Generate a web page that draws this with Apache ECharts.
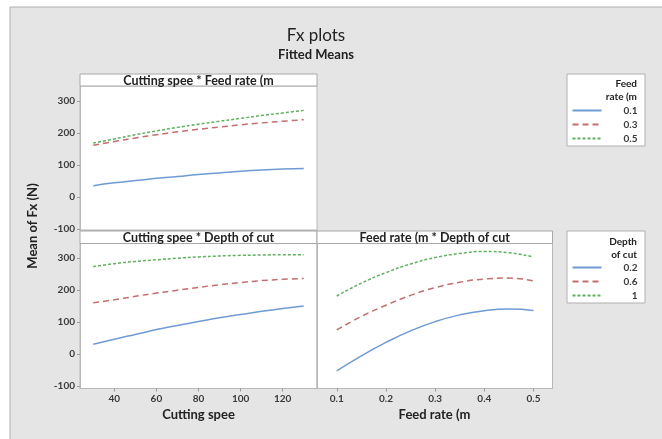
<!DOCTYPE html>
<html><head><meta charset="utf-8">
<script src="https://cdn.jsdelivr.net/npm/echarts@6/dist/echarts.min.js"></script>
<style>html,body{margin:0;padding:0;background:#fff}#c{width:662px;height:439px}</style>
</head><body><div id="c"></div>
<script>
// ---- data ----
const cuttingSpeed = [30,40,50,60,70,80,90,100,110,120,130];
const feedRate = [0.1,0.15,0.2,0.25,0.3,0.35,0.4,0.45,0.5];
// Cutting speed * Feed rate (by feed rate)
const csFr_01 = [35,44,51,58,64,70,75,80,84,87,89];
const csFr_03 = [161,173,184,194,203,211,218,225,231,236,241];
const csFr_05 = [168,181,194,206,217,227,236,245,254,262,270];
// Cutting speed * Depth of cut (by depth)
const csDc_02 = [31,47,62,77,90,102,114,124,134,143,151];
const csDc_06 = [161,170,181,191,200,209,217,224,230,234,237];
const csDc_1  = [274,283,290,295,300,304,307,309,310,311,311];
// Feed rate * Depth of cut (by depth)
const frDc_02 = [-52,-5,37,73,102,123,136,141,137];
const frDc_06 = [76,118,153,184,208,225,235,238,229];
const frDc_1  = [182,222,255,282,302,315,321,317,304];
// tick labels
const yTicks = [-100,0,100,200,300];
const speedTicks = [40,60,80,100,120];
const feedTicks = [0.1,0.2,0.3,0.4,0.5];
const feedLegend = ['0.1','0.3','0.5'];
const depthLegend = ['0.2','0.6','1'];

const FONT = 'Lato';
const colors = ['#6f9bd4','#c46e6e','#5fb05f'];
const styles = [
  {type:'solid', width:1.5},
  {type:[6,4], width:1.5},
  {type:[3,2], width:1.5}
];
const pairs = (xs, ys) => xs.map((x,i)=>[x, ys[i]]);

function mkSeries(name, xs, ys, k, xi, yi){
  return {name, type:'line', xAxisIndex:xi, yAxisIndex:yi, data:pairs(xs,ys),
    smooth:true, symbol:'none', color:colors[k],
    lineStyle:Object.assign({color:colors[k]}, styles[k]), z:3};
}
const lblStyle = {color:'#3a3a3a', fontFamily:FONT, fontWeight:'bold', fontSize:10};
const tickStyle = {lineStyle:{color:'#9a9a9a'}, length:3};
function yAxis(gi, showLabels, min, max){
  return {type:'value', gridIndex:gi, min, max, splitLine:{show:false},
    axisLine:{show:true, lineStyle:{color:'#b8b8b8'}},
    axisTick:Object.assign({show:showLabels, customValues:yTicks}, tickStyle),
    axisLabel:Object.assign({show:showLabels, customValues:yTicks, margin:5}, lblStyle)};
}
function xAxis(gi, showLabels, min, max, ticks, fmt){
  return {type:'value', gridIndex:gi, min, max, splitLine:{show:false},
    axisLine:{show:true, onZero:false, lineStyle:{color:'#b8b8b8'}},
    axisTick:Object.assign({show:showLabels, customValues:ticks}, tickStyle),
    axisLabel:Object.assign({show:showLabels, customValues:ticks, margin:5, formatter:fmt}, lblStyle)};
}
const gridCommon = {show:true, backgroundColor:'#ffffff', borderColor:'#b8b8b8', borderWidth:1, containLabel:false};

const legendRich = {a:{width:31, align:'right', fontFamily:FONT, fontWeight:'bold', fontSize:10, color:'#3a3a3a'}};
function legend(data, top){
  return {data, orient:'vertical', left:571.5, top, padding:0, itemWidth:29, itemHeight:10, itemGap:4,
    itemStyle:{opacity:0}, 
    formatter:'{a|{name}}', textStyle:{rich:legendRich}, selectedMode:false};
}
function txt(x,y,text,size,weight,align,extra){
  return Object.assign({type:'text', x, y, silent:true, style:{text, fill:'#222', font:weight+' '+size+'px '+FONT, align:align||'center', verticalAlign:'middle'}, z:10}, extra||{});
}
function strip(x,y,w,h,text){
  return [
    {type:'rect', shape:{x,y,width:w,height:h}, style:{fill:'#fff', stroke:'#a8a8a8', lineWidth:1}, z:5, silent:true},
    txt(x+w/2, y+h/2+0.5, text, 12.5, 'bold')
  ];
}

const option = {
  animation:false,
  backgroundColor:'#ffffff',
  grid:[
    Object.assign({left:80, top:86, width:237, height:144}, gridCommon),
    Object.assign({left:80, top:243.5, width:237, height:145}, gridCommon),
    Object.assign({left:317, top:243.5, width:235.5, height:145}, gridCommon)
  ],
  xAxis:[
    xAxis(0,false,23.7,136.3,speedTicks),
    xAxis(1,true,23.7,136.3,speedTicks),
    xAxis(2,true,0.0598,0.5386,feedTicks,v=>String(v))
  ],
  yAxis:[
    yAxis(0,true,-103,346),
    yAxis(1,true,-107,346),
    yAxis(2,false,-107,346)
  ],
  legend:[legend(feedLegend,105.5), legend(depthLegend,262.5)],
  series:[
    mkSeries('0.1',cuttingSpeed,csFr_01,0,0,0),
    mkSeries('0.3',cuttingSpeed,csFr_03,1,0,0),
    mkSeries('0.5',cuttingSpeed,csFr_05,2,0,0),
    mkSeries('0.2',cuttingSpeed,csDc_02,0,1,1),
    mkSeries('0.6',cuttingSpeed,csDc_06,1,1,1),
    mkSeries('1',cuttingSpeed,csDc_1,2,1,1),
    mkSeries('0.2',feedRate,frDc_02,0,2,2),
    mkSeries('0.6',feedRate,frDc_06,1,2,2),
    mkSeries('1',feedRate,frDc_1,2,2,2)
  ],
  graphic:[
    {type:'rect', shape:{x:10,y:7,width:660,height:440}, style:{fill:'#e5e5e5', stroke:'#b0b0b0', lineWidth:1}, z:-10, silent:true},
    txt(316,36,'Fx plots',17,'normal'),
    txt(316,55,'Fitted Means',13,'bold'),
    ...strip(80,74,237,12,'Cutting spee * Feed rate (m'),
    ...strip(80,231,237,12.5,'Cutting spee * Depth of cut'),
    ...strip(317,231,235.5,12.5,'Feed rate (m * Depth of cut'),
    txt(198.5,415,'Cutting spee',13,'bold'),
    txt(434.5,415,'Feed rate (m',13,'bold'),
    txt(33,226,'Mean of Fx (N)',13,'bold','center',{rotation:Math.PI/2}),
    {type:'rect', shape:{x:567,y:74,width:78,height:72}, style:{fill:'#fff', stroke:'#b0b0b0', lineWidth:1}, z:-5, silent:true},
    txt(637,83.5,'Feed',10,'bold','right'),
    txt(637,96.5,'rate (m',10,'bold','right'),
    {type:'rect', shape:{x:567,y:231,width:78,height:72}, style:{fill:'#fff', stroke:'#b0b0b0', lineWidth:1}, z:-5, silent:true},
    txt(637,241.5,'Depth',10,'bold','right'),
    txt(637,255,'of cut',10,'bold','right')
  ]
};
const chart = echarts.init(document.getElementById('c'), null, {renderer:'canvas'});
chart.setOption(option);
</script></body></html>
